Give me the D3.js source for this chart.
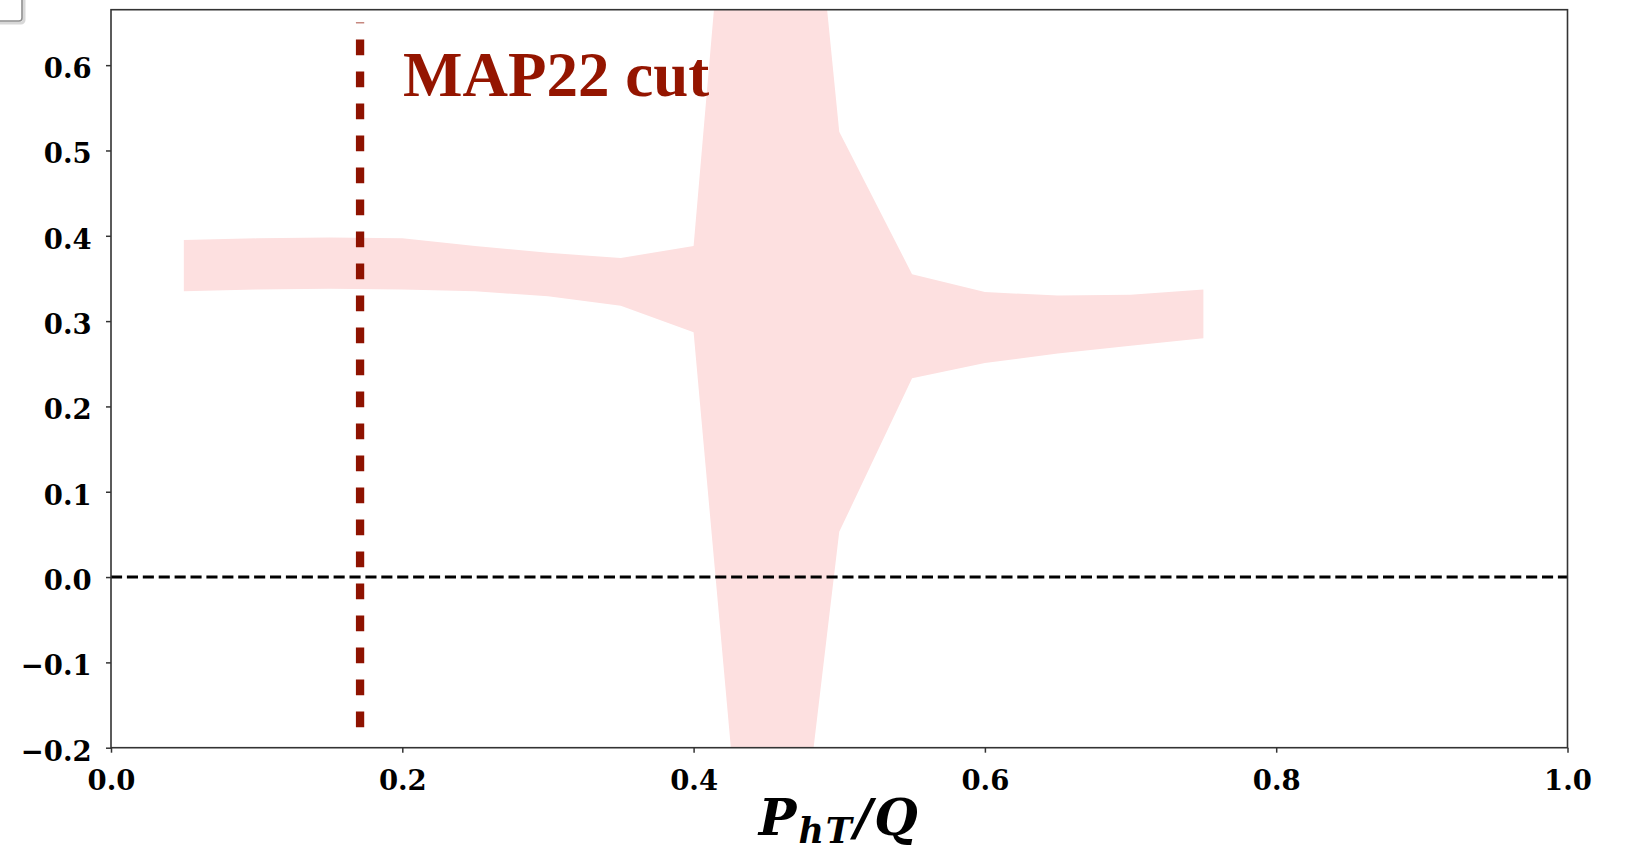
<!DOCTYPE html>
<html>
<head>
<meta charset="utf-8">
<script src="https://cdn.jsdelivr.net/npm/d3@7"></script>
<style>
  html, body { margin: 0; padding: 0; background: #fff; }
  svg { display: block; }
</style>
</head>
<body>
<svg id="chart" width="1629" height="854"></svg>
<script>
// P_hT/Q grid of the uncertainty band
const xValues = [0.05, 0.10, 0.15, 0.20, 0.25, 0.30, 0.35, 0.40, 0.45, 0.50, 0.55, 0.60, 0.65, 0.70, 0.75];
// upper and lower edges of the band
const upperValues = [0.395, 0.397, 0.398, 0.397, 0.388, 0.380, 0.374, 0.388, 1.38, 0.522, 0.355, 0.334, 0.330, 0.331, 0.337];
const lowerValues = [0.335, 0.337, 0.338, 0.337, 0.335, 0.329, 0.318, 0.287, -0.665, 0.053, 0.233, 0.251, 0.262, 0.271, 0.280];

// axis ticks
const xTickValues = [0.0, 0.2, 0.4, 0.6, 0.8, 1.0];
const yTickValues = [-0.2, -0.1, 0.0, 0.1, 0.2, 0.3, 0.4, 0.5, 0.6];
const xDomain = [0, 1];
const yDomain = [-0.2, 0.665];

// kinematic cut marker
const cutPosition = 0.171;
const cutSpan = [-0.176, 0.650];
const cutLabel = "MAP22 cut";

const W = 1629, H = 854;
const margin = { top: 9.7, right: 61.5, bottom: 106.3, left: 111 };
const iw = W - margin.left - margin.right;
const ih = H - margin.top - margin.bottom;

const svg = d3.select("#chart");

// small framed box peeking in at the top-left corner
const corner = svg.append("g");
corner.append("rect")
  .attr("x", -10).attr("y", -10).attr("width", 34).attr("height", 33).attr("rx", 3)
  .attr("fill", "none").attr("stroke", "#d8d8d8").attr("stroke-width", 3);
corner.append("rect")
  .attr("x", -10).attr("y", -10).attr("width", 32).attr("height", 31).attr("rx", 3)
  .attr("fill", "#fff").attr("stroke", "#8f8f8f").attr("stroke-width", 1.6);

const g = svg.append("g").attr("transform", `translate(${margin.left},${margin.top})`);

const x = d3.scaleLinear().domain(xDomain).range([0, iw]);
const y = d3.scaleLinear().domain(yDomain).range([ih, 0]);

g.append("clipPath").attr("id", "plot-clip")
  .append("rect").attr("width", iw).attr("height", ih);

// uncertainty band
const bandData = xValues.map((v, i) => ({ x: v, hi: upperValues[i], lo: lowerValues[i] }));
const area = d3.area()
  .x(d => x(d.x))
  .y0(d => y(d.lo))
  .y1(d => y(d.hi));

g.append("path")
  .datum(bandData)
  .attr("clip-path", "url(#plot-clip)")
  .attr("fill", "#fde0e0")
  .attr("d", area);

// zero reference line
g.append("line")
  .attr("x1", x(xDomain[0])).attr("x2", x(xDomain[1]))
  .attr("y1", y(0)).attr("y2", y(0))
  .attr("stroke", "#000")
  .attr("stroke-width", 3)
  .attr("stroke-dasharray", "11.1,4.8");

// cut marker, dashes laid out from the bottom end
g.append("line")
  .attr("x1", x(cutPosition)).attr("x2", x(cutPosition))
  .attr("y1", y(cutSpan[0])).attr("y2", y(cutSpan[1]))
  .attr("stroke", "#8e1200")
  .attr("stroke-width", 8.3)
  .attr("stroke-dasharray", "15.8,16.2");

g.append("text")
  .attr("x", 292)
  .attr("y", 86.3)
  .attr("fill", "#941500")
  .attr("font-family", "'Liberation Serif', 'DejaVu Serif', serif")
  .attr("font-weight", "bold")
  .attr("font-size", 63)
  .text(cutLabel);

// axes
const tickFont = "'DejaVu Serif', 'Liberation Serif', serif";
const fmt = d3.format(".1f");

const xAxis = g.append("g")
  .attr("transform", `translate(0,${ih})`)
  .call(d3.axisBottom(x).tickValues(xTickValues).tickFormat(fmt).tickSize(5).tickPadding(17.8));

const yAxis = g.append("g")
  .call(d3.axisLeft(y).tickValues(yTickValues).tickFormat(fmt).tickSize(5).tickPadding(14.3));

[xAxis, yAxis].forEach(ax => {
  ax.select(".domain").remove();
  ax.selectAll(".tick line").attr("stroke", "#333").attr("stroke-width", 1.5);
  ax.selectAll(".tick text")
    .attr("fill", "#000")
    .attr("font-family", tickFont)
    .attr("font-weight", "bold")
    .attr("font-size", 27.5);
});
yAxis.selectAll(".tick text").attr("dy", "0.45em");

// plot frame
g.append("rect")
  .attr("width", iw).attr("height", ih)
  .attr("fill", "none")
  .attr("stroke", "#333")
  .attr("stroke-width", 1.6);

// x-axis title: P_hT / Q
const title = svg.append("text")
  .attr("x", margin.left + x(0.5))
  .attr("y", 835)
  .attr("text-anchor", "middle")
  .attr("font-family", "'DejaVu Serif', serif")
  .attr("font-weight", "bold")
  .attr("font-style", "italic")
  .attr("font-size", 50)
  .attr("letter-spacing", 2)
  .attr("fill", "#000");
title.append("tspan").text("P");
title.append("tspan").attr("font-size", 35).attr("dy", 8).text("hT");
title.append("tspan").attr("dy", -8).text("/Q");
</script>
</body>
</html>
